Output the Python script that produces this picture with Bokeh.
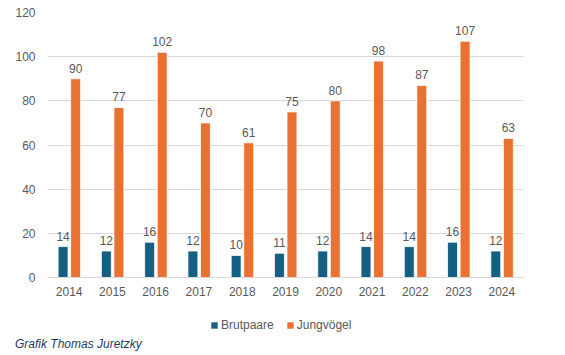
from bokeh.plotting import figure
from bokeh.models import ColumnDataSource, LabelSet, Legend, LegendItem, Div, FactorRange, Range1d
from bokeh.layouts import column
from bokeh.transform import dodge
from bokeh.embed import file_html
from bokeh.resources import INLINE
from bokeh.core.properties import value

years = ["2014", "2015", "2016", "2017", "2018", "2019", "2020", "2021", "2022", "2023", "2024"]
brutpaare = [14, 12, 16, 12, 10, 11, 12, 14, 14, 16, 12]
jungvoegel = [90, 77, 102, 70, 61, 75, 80, 98, 87, 107, 63]
y_ticks = [0, 20, 40, 60, 80, 100, 120]

BLUE = "#156082"
ORANGE = "#E97132"
GREY = "#595959"
FONT = "Liberation Sans"

src = ColumnDataSource(dict(years=years, b=brutpaare, j=jungvoegel,
                            bl=[str(v) for v in brutpaare], jl=[str(v) for v in jungvoegel]))

p = figure(x_range=FactorRange(*years), y_range=Range1d(0, 120),
           width=557, height=300, output_backend="svg", toolbar_location=None,
           min_border_left=47, min_border_right=34, min_border_top=12, min_border_bottom=23)
p.outline_line_color = None
p.background_fill_color = "white"
p.border_fill_color = "white"

rb = p.vbar(x=dodge("years", -0.14, range=p.x_range), top="b", width=0.23, source=src,
            fill_color=BLUE, line_color="white", line_width=0.8)
rj = p.vbar(x=dodge("years", 0.15, range=p.x_range), top="j", width=0.23, source=src,
            fill_color=ORANGE, line_color="white", line_width=0.8)

for col, lab, off in [("b", "bl", -0.14), ("j", "jl", 0.15)]:
    ls = LabelSet(x=dodge("years", off, range=p.x_range), y=col, text=lab, source=src,
                  text_align="center", text_baseline="bottom", y_offset=6,
                  text_font=value(FONT), text_font_size="12px", text_color=GREY)
    p.add_layout(ls)

p.yaxis.ticker = y_ticks
p.yaxis.axis_line_color = None
p.yaxis.major_tick_line_color = None
p.yaxis.minor_tick_line_color = None
p.yaxis.major_tick_out = 0
p.yaxis.major_label_text_font = FONT
p.yaxis.major_label_text_font_size = "12px"
p.yaxis.major_label_text_color = GREY
p.yaxis.major_label_standoff = 12

p.xaxis.axis_line_color = "#d9d9d9"
p.xaxis.major_tick_line_color = None
p.xaxis.minor_tick_line_color = None
p.xaxis.major_tick_out = 0
p.xaxis.major_label_text_font = FONT
p.xaxis.major_label_text_font_size = "12px"
p.xaxis.major_label_text_color = GREY
p.xaxis.major_label_standoff = 9

p.xgrid.grid_line_color = None
p.ygrid.grid_line_color = "#d9d9d9"
p.ygrid.grid_line_width = 1

# lower strip holding the legend
q = figure(x_range=Range1d(0, 1), y_range=Range1d(0, 1), width=557, height=37,
           output_backend="svg", toolbar_location=None,
           x_axis_location=None, y_axis_location=None,
           min_border_left=47, min_border_right=34, min_border_top=0, min_border_bottom=0)
q.grid.visible = False
q.outline_line_color = None
q.background_fill_color = "white"
q.border_fill_color = "white"
lb = q.vbar(x="b", top="j", width=0.1, source=src, fill_color=BLUE, line_color=None, visible=False)
lj = q.vbar(x="b", top="j", width=0.1, source=src, fill_color=ORANGE, line_color=None, visible=False)

legend = Legend(items=[LegendItem(label="Brutpaare", renderers=[lb]),
                       LegendItem(label="Jungvögel", renderers=[lj])],
                orientation="horizontal", location=(163, 5),
                padding=0, margin=0, spacing=12,
                glyph_width=8, glyph_height=8, label_standoff=3,
                label_text_font=FONT, label_text_font_size="12px", label_text_color=GREY,
                background_fill_alpha=0, border_line_color=None)
q.add_layout(legend)

cap = Div(text="Grafik Thomas Juretzky", width=557, height=14,
          styles={"font-family": "Liberation Sans", "font-style": "italic",
                  "font-size": "12px", "line-height": "14px", "color": "#1F3A5F",
                  "padding-left": "15px", "margin": "0"})

layout = column(p, q, cap, spacing=0)
open("out.html", "w").write(file_html(layout, INLINE))
